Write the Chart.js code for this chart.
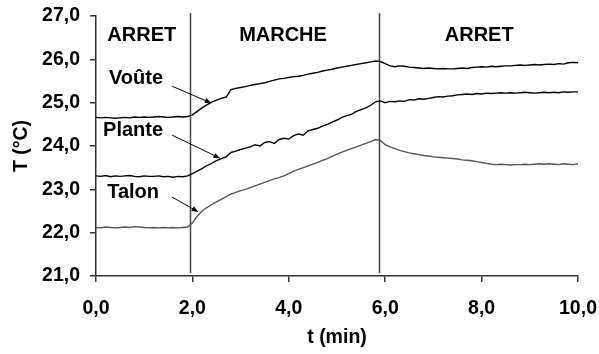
<!DOCTYPE html>
<html>
<head>
<meta charset="utf-8">
<script src="https://cdn.jsdelivr.net/npm/chart.js@4"></script>
<style>
  body { margin: 0; background: #fff; }
  #wrap { width: 599px; height: 354px; }
</style>
</head>
<body>
<div id="wrap"><canvas id="tempChart" width="599" height="354"></canvas></div>
<script>
// time (min), one reading every 0.1 min
const times = [
  0.0, 0.1, 0.2, 0.3, 0.4, 0.5, 0.6, 0.7, 0.8, 0.9,
  1.0, 1.1, 1.2, 1.3, 1.4, 1.5, 1.6, 1.7, 1.8, 1.9,
  2.0, 2.1, 2.2, 2.3, 2.4, 2.5, 2.6, 2.7, 2.8, 2.9,
  3.0, 3.1, 3.2, 3.3, 3.4, 3.5, 3.6, 3.7, 3.8, 3.9,
  4.0, 4.1, 4.2, 4.3, 4.4, 4.5, 4.6, 4.7, 4.8, 4.9,
  5.0, 5.1, 5.2, 5.3, 5.4, 5.5, 5.6, 5.7, 5.8, 5.9,
  6.0, 6.1, 6.2, 6.3, 6.4, 6.5, 6.6, 6.7, 6.8, 6.9,
  7.0, 7.1, 7.2, 7.3, 7.4, 7.5, 7.6, 7.7, 7.8, 7.9,
  8.0, 8.1, 8.2, 8.3, 8.4, 8.5, 8.6, 8.7, 8.8, 8.9,
  9.0, 9.1, 9.2, 9.3, 9.4, 9.5, 9.6, 9.7, 9.8, 9.9,
  10.0
];

const voute = [
  24.66, 24.65, 24.66, 24.65, 24.64, 24.65, 24.66, 24.65, 24.67, 24.66,
  24.67, 24.66, 24.67, 24.68, 24.67, 24.66, 24.67, 24.68, 24.67, 24.68,
  24.72, 24.80, 24.88, 24.95, 25.01, 25.06, 25.10, 25.13, 25.30, 25.33,
  25.35, 25.37, 25.40, 25.42, 25.44, 25.46, 25.49, 25.52, 25.55, 25.56,
  25.58, 25.60, 25.61, 25.63, 25.66, 25.68, 25.70, 25.73, 25.75, 25.77,
  25.80, 25.82, 25.84, 25.86, 25.88, 25.90, 25.92, 25.94, 25.96, 25.95,
  25.90, 25.85, 25.83, 25.85, 25.84, 25.82, 25.81, 25.80, 25.79, 25.80,
  25.79, 25.78, 25.79, 25.78, 25.78, 25.79, 25.80, 25.79, 25.81, 25.82,
  25.83, 25.82, 25.84, 25.83, 25.84, 25.85, 25.85, 25.86, 25.87, 25.86,
  25.87, 25.88, 25.87, 25.88, 25.89, 25.88, 25.90, 25.89, 25.92, 25.93,
  25.92
];

const plante = [
  23.31, 23.30, 23.32, 23.29, 23.31, 23.30, 23.31, 23.32, 23.30, 23.29,
  23.31, 23.30, 23.30, 23.31, 23.29, 23.30, 23.28, 23.30, 23.29, 23.31,
  23.36, 23.42, 23.48, 23.55, 23.60, 23.66, 23.71, 23.75, 23.85, 23.88,
  23.92, 23.95, 23.98, 24.03, 24.00, 24.08, 24.10, 24.06, 24.15, 24.18,
  24.16, 24.24, 24.28, 24.25, 24.35, 24.38, 24.41, 24.46, 24.50, 24.55,
  24.60, 24.66, 24.70, 24.73, 24.80, 24.84, 24.88, 24.94, 25.02, 25.04,
  25.00, 25.03, 25.02, 25.04, 25.03, 25.07, 25.06, 25.09, 25.08, 25.10,
  25.12, 25.14, 25.13, 25.15, 25.16, 25.18, 25.19, 25.20, 25.19, 25.21,
  25.20, 25.22, 25.21, 25.22, 25.23, 25.22, 25.23, 25.22, 25.23, 25.24,
  25.23, 25.22, 25.23, 25.24, 25.23, 25.24, 25.23, 25.25, 25.24, 25.25,
  25.25
];

const talon = [
  22.12, 22.11, 22.13, 22.12, 22.11, 22.12, 22.13, 22.12, 22.14, 22.13,
  22.12, 22.11, 22.12, 22.11, 22.12, 22.11, 22.12, 22.11, 22.12, 22.13,
  22.22, 22.38, 22.50, 22.58, 22.65, 22.71, 22.77, 22.83, 22.89, 22.93,
  22.97, 23.00, 23.04, 23.08, 23.12, 23.16, 23.20, 23.24, 23.27, 23.31,
  23.36, 23.42, 23.46, 23.50, 23.54, 23.58, 23.62, 23.67, 23.71, 23.76,
  23.81, 23.86, 23.90, 23.94, 23.98, 24.02, 24.06, 24.10, 24.15, 24.13,
  24.03, 23.98, 23.94, 23.90, 23.87, 23.84, 23.82, 23.80, 23.78, 23.77,
  23.75, 23.74, 23.73, 23.72, 23.71, 23.70, 23.68, 23.67, 23.66, 23.64,
  23.62, 23.60, 23.58, 23.57, 23.58, 23.57, 23.56, 23.57, 23.57, 23.58,
  23.57, 23.58, 23.59, 23.58, 23.59, 23.58, 23.57, 23.59, 23.58, 23.57,
  23.59
];

// phase boundaries (min) and phase names
const phaseBounds = [1.96, 5.87];
const phaseNames = ['ARRET', 'MARCHE', 'ARRET'];
const phaseCenters = [0.95, 3.88, 7.95];

// curve labels with arrows, in data units: [text, labelX, labelY, fromX, fromY, toX, toY]
const curveNotes = [
  ['Voûte', 0.83, 25.55, 1.58, 25.38, 2.39, 24.99],
  ['Plante', 0.77, 24.35, 1.58, 24.25, 2.57, 23.72],
  ['Talon', 0.77, 22.92, 1.58, 22.82, 2.12, 22.48]
];

const FONT = "'Liberation Sans', Arial, sans-serif";

const annotate = {
    id: 'annotate',
    beforeDatasetsDraw(chart) {
        const { ctx, scales: { x, y } } = chart;
        ctx.save();
        ctx.strokeStyle = '#444';
        ctx.lineWidth = 1.5;
        phaseBounds.forEach(b => {
            const px = Math.round(x.getPixelForValue(b)) + 0.5;
            ctx.beginPath();
            ctx.moveTo(px, y.getPixelForValue(27.07));
            ctx.lineTo(px, y.getPixelForValue(21.07));
            ctx.stroke();
        });
        ctx.restore();
    },
    afterDatasetsDraw(chart) {
        const { ctx, scales: { x, y } } = chart;
        ctx.save();
        ctx.fillStyle = '#000';
        ctx.font = 'bold 20px ' + FONT;
        ctx.textAlign = 'center';
        ctx.textBaseline = 'middle';
        phaseNames.forEach((name, i) => {
            ctx.fillText(name, x.getPixelForValue(phaseCenters[i]), y.getPixelForValue(26.54));
        });

        curveNotes.forEach(n => {
            ctx.fillStyle = '#000';
            ctx.fillText(n[0], x.getPixelForValue(n[1]), y.getPixelForValue(n[2]));
            const x0 = x.getPixelForValue(n[3]), y0 = y.getPixelForValue(n[4]);
            const x1 = x.getPixelForValue(n[5]), y1 = y.getPixelForValue(n[6]);
            ctx.strokeStyle = '#000';
            ctx.lineWidth = 1;
            ctx.beginPath();
            ctx.moveTo(x0, y0);
            ctx.lineTo(x1, y1);
            ctx.stroke();
            // arrow head
            const a = Math.atan2(y1 - y0, x1 - x0);
            const len = 7, w = 0.4;
            ctx.beginPath();
            ctx.moveTo(x1, y1);
            ctx.lineTo(x1 - len * Math.cos(a - w), y1 - len * Math.sin(a - w));
            ctx.lineTo(x1 - len * Math.cos(a + w), y1 - len * Math.sin(a + w));
            ctx.closePath();
            ctx.fill();
        });
        ctx.restore();
    }
};

const toXY = vals => vals.map((v, i) => ({ x: times[i], y: v }));
const comma = v => Number(v).toFixed(1).replace('.', ',');

new Chart(document.getElementById('tempChart'), {
    type: 'line',
    data: {
        datasets: [
            { label: 'Voûte', data: toXY(voute), borderColor: '#000', borderWidth: 1.4 },
            { label: 'Plante', data: toXY(plante), borderColor: '#000', borderWidth: 1.4 },
            { label: 'Talon', data: toXY(talon), borderColor: '#555', borderWidth: 1.4 }
        ]
    },
    options: {
        responsive: false,
        animation: false,
        events: [],
        layout: { padding: { top: 16, right: 21, bottom: 0, left: 0 } },
        elements: { point: { radius: 0 }, line: { tension: 0 } },
        plugins: { legend: { display: false }, tooltip: { enabled: false } },
        scales: {
            x: {
                type: 'linear',
                min: 0,
                max: 10,
                afterFit: s => { s.height = 78; s.paddingLeft = 0; s.paddingRight = 0; },
                ticks: {
                    stepSize: 2,
                    padding: 15,
                    color: '#000',
                    font: { family: FONT, size: 19.5, weight: 'bold' },
                    callback: comma,
                    maxRotation: 0
                },
                grid: { drawOnChartArea: false, drawTicks: true, tickLength: 6, color: '#333', lineWidth: 1.5 },
                border: { display: true, color: '#333', width: 1.5 },
                title: {
                    display: true,
                    text: 't (min)',
                    color: '#000',
                    font: { family: FONT, size: 19.5, weight: 'bold', lineHeight: 1 },
                    padding: { top: 0, bottom: 6.5 }
                }
            },
            y: {
                min: 21,
                max: 27,
                afterFit: s => { s.width = 96; s.paddingTop = 0; s.paddingBottom = 0; },
                ticks: {
                    stepSize: 1,
                    padding: 10,
                    color: '#000',
                    font: { family: FONT, size: 19.5, weight: 'bold' },
                    callback: comma
                },
                grid: { drawOnChartArea: false, drawTicks: true, tickLength: 6, color: '#333', lineWidth: 1.5 },
                border: { display: true, color: '#333', width: 1.5 },
                title: {
                    display: true,
                    text: 'T (°C)',
                    color: '#000',
                    font: { family: FONT, size: 19.5, weight: 'bold', lineHeight: 1 },
                    padding: { top: 11.5, bottom: 0 }
                }
            }
        }
    },
    plugins: [annotate]
});
</script>
</body>
</html>
